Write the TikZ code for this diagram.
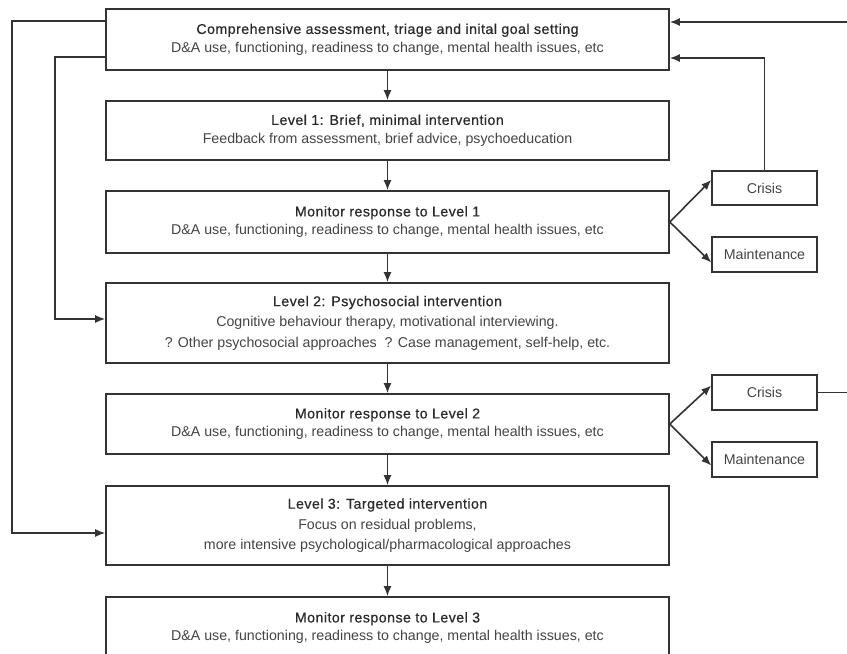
\documentclass[tikz,border=0pt]{standalone}
\usepackage{fontspec}
\setmainfont{Liberation Sans}
\newfontfamily\titlefont[FakeBold=0.6,LetterSpace=3.2]{Liberation Sans}
\usetikzlibrary{arrows.meta,calc}
\definecolor{ink}{HTML}{333333}
\definecolor{txt}{HTML}{444444}
\definecolor{ttl}{HTML}{2A2A2A}
\begin{document}
\begin{tikzpicture}[x=1pt,y=-1pt,
  mainbox/.style={draw=ink,line width=1.6pt,minimum width=563pt,align=center,inner sep=0pt,
    text=txt,font=\fontsize{14.2}{18.5}\selectfont},
  sidebox/.style={draw=ink,line width=1.5pt,minimum width=105pt,inner sep=0pt,
    text=txt,font=\fontsize{14.2}{16}\selectfont},
  conn/.style={draw=ink,line width=1.6pt,-{Latex[length=10pt,width=8pt]}},
  plain/.style={draw=ink,line width=1.6pt}]
\useasboundingbox (0,0) rectangle (847,654);
\clip (0,0) rectangle (847,654);
\fill[white] (0,0) rectangle (847,654);

\newcommand{\ttl}[1]{{\titlefont\color{ttl}#1}}

\node[mainbox,minimum height=61pt] (b0) at (387.5,39.5)
  {\ttl{Comprehensive assessment, triage and inital goal setting}\\
   D\&A use, functioning, readiness to change, mental health issues, etc};
\node[mainbox,minimum height=59pt] (b1) at (387.5,130.5)
  {\ttl{Level 1: Brief, minimal intervention}\\
   Feedback from assessment, brief advice, psychoeducation};
\node[mainbox,minimum height=62pt] (b2) at (387.5,222)
  {\ttl{Monitor response to Level 1}\\
   D\&A use, functioning, readiness to change, mental health issues, etc};
\node[mainbox,minimum height=80pt,font=\fontsize{14.2}{20.5}\selectfont] (b3) at (387.5,323)
  {\ttl{Level 2: Psychosocial intervention}\\
   Cognitive behaviour therapy, motivational interviewing.\\
   ? Other psychosocial approaches\ \ ? Case management, self-help, etc.};
\node[mainbox,minimum height=60pt] (b4) at (387.5,424)
  {\ttl{Monitor response to Level 2}\\
   D\&A use, functioning, readiness to change, mental health issues, etc};
\node[mainbox,minimum height=79pt,font=\fontsize{14.2}{20.5}\selectfont] (b5) at (387.5,525.5)
  {\ttl{Level 3: Targeted intervention}\\
   Focus on residual problems,\\
   more intensive psychological/pharmacological approaches};
\node[mainbox,minimum height=62pt] (b6) at (387.5,628)
  {\ttl{Monitor response to Level 3}\\
   D\&A use, functioning, readiness to change, mental health issues, etc};

\node[sidebox,minimum height=34pt] (c1) at (764.5,188) {Crisis};
\node[sidebox,minimum height=35pt] (m1) at (764.5,254.5) {Maintenance};
\node[sidebox,minimum height=35pt] (c2) at (764.5,392.5) {Crisis};
\node[sidebox,minimum height=35pt] (m2) at (764.5,459.5) {Maintenance};

% vertical flow
\draw[conn] (b0) -- (b1);
\draw[conn] (b1) -- (b2);
\draw[conn] (b2) -- (b3);
\draw[conn] (b3) -- (b4);
\draw[conn] (b4) -- (b5);
\draw[conn] (b5) -- (b6);

% fans to crisis / maintenance
\draw[conn] (b2.east) -- ([yshift=8pt]c1.west);
\draw[conn] (b2.east) -- ([yshift=-8pt]m1.west);
\draw[conn] (b4.east) -- ([yshift=7pt]c2.west);
\draw[conn] (b4.east) -- ([yshift=-6pt]m2.west);

% feedback from crisis boxes
\coordinate (r1) at (847,22);
\coordinate (r2) at (847,392.5);
\draw[plain] (c2.east) -- (r2);
\draw[conn] (r1) -- (b0.east |- r1);
\draw[conn] (c1.north) |- ($(b0.east)+(0,-18.5pt)$);

% left-hand loops
\coordinate (l1) at (12,21);
\coordinate (l2) at (55,57);
\draw[conn] (b0.west |- l1) -- (l1) |- ($(b5.west)+(0,-7.5pt)$);
\draw[conn] (b0.west |- l2) -- (l2) |- ($(b3.west)+(0,4pt)$);
\end{tikzpicture}
\end{document}
